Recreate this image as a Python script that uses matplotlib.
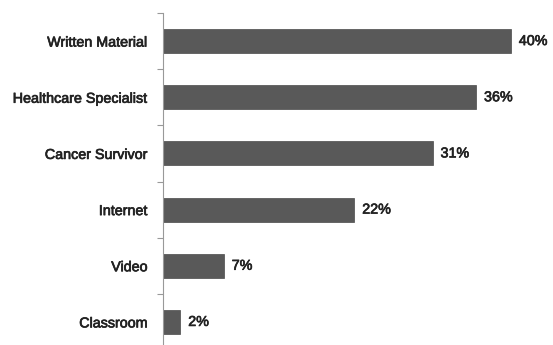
import numpy as np
import matplotlib.pyplot as plt
import matplotlib.patheffects as pe

plt.rcParams['font.family'] = ['Liberation Sans', 'DejaVu Sans']

categories = ['Written Material', 'Healthcare Specialist', 'Cancer Survivor',
              'Internet', 'Video', 'Classroom']
values = [40, 36, 31, 22, 7, 2]

txt_col = '#222222'
# thin stroke to mimic the slightly heavier text of the original
heavy = [pe.withStroke(linewidth=0.5, foreground=txt_col)]

fig = plt.figure(figsize=(5.53, 3.45), dpi=100)
# axes placed so the left spine sits at x=163px, top at y=13px
ax = fig.add_axes([163/553, -5/345, 390/553, 337/345])

y = np.arange(len(categories))
ax.barh(y, values, height=0.43, color='#595959', edgecolor='#4a4a4a', lw=0.5)

for yi, v in zip(y, values):
    ax.text(v + 0.9, yi, '{}%'.format(v), va='center', ha='left',
            fontsize=10.3, color=txt_col, path_effects=heavy)

ax.set_ylim(len(categories) - 0.5, -0.5)
ax.set_xlim(0, 390/8.7)
ax.set_yticks(y)
ax.set_yticklabels(categories, fontsize=10.3, color=txt_col)
for lab in ax.get_yticklabels():
    lab.set_path_effects(heavy)
ax.set_yticks(np.arange(-0.5, len(categories), 1), minor=True)
ax.tick_params(axis='y', which='major', length=0, pad=11)
ax.tick_params(axis='y', which='minor', length=4, color='#999999', width=0.8)
ax.set_xticks([])
for s in ['top', 'right', 'bottom']:
    ax.spines[s].set_visible(False)
ax.spines['left'].set_color('#999999')
ax.spines['left'].set_linewidth(0.8)

fig.savefig('out.png', dpi=100)
